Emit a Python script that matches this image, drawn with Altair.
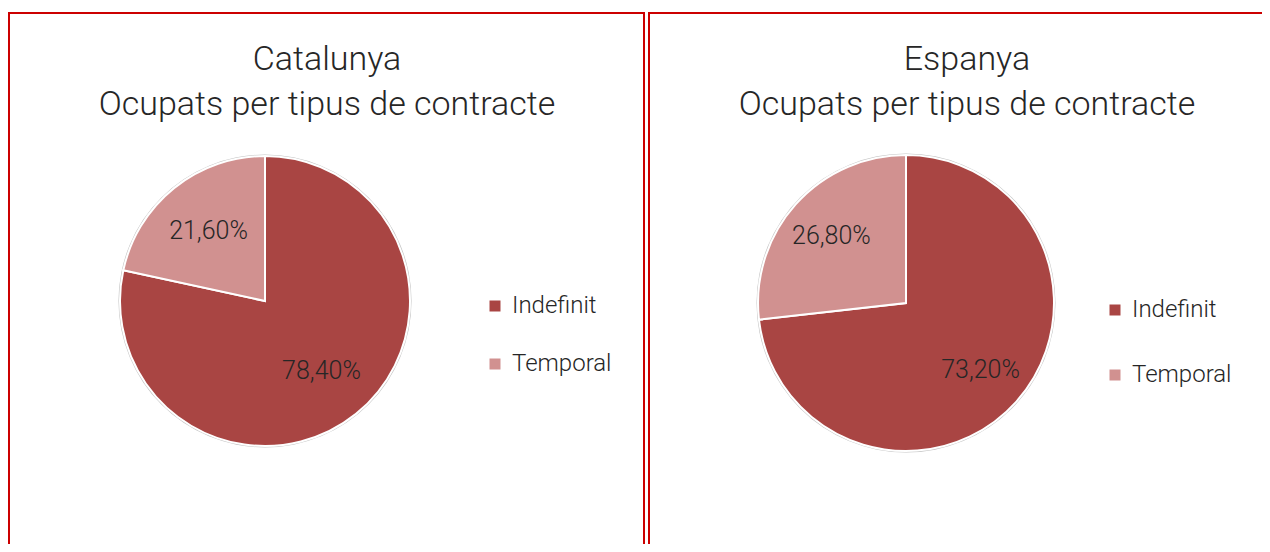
import math
import altair as alt
import pandas as pd

categories = ["Indefinit", "Temporal"]
catalunya_values = [78.4, 21.6]
espanya_values = [73.2, 26.8]
panel_names = ["Catalunya", "Espanya"]
subtitle = "Ocupats per tipus de contracte"
colors = ["#A94543", "#D19190"]

FONT = "Roboto"
TEXT_COLOR = "#262626"
FRAME_COLOR = "#CC0000"


def fmt(v):
    return f"{v:.2f}".replace(".", ",") + "%"


def panel(name, values, cx, cy, r, fx1, fx2, title_x, leg_x, leg_y, row_pad, label_r):
    df = pd.DataFrame({
        "cat": categories,
        "value": values,
        "order": list(range(len(categories))),
        "label": [fmt(v) for v in values],
    })
    one = pd.DataFrame({"title": [name + "\n" + subtitle]})

    frame = alt.Chart(one).mark_rect(
        fill="transparent", stroke=FRAME_COLOR, strokeWidth=2
    ).encode(x=alt.value(fx1), x2=alt.value(fx2), y=alt.value(5), y2=alt.value(700))

    title = alt.Chart(one).mark_text(
        font=FONT, fontSize=34, fontWeight=300, color=TEXT_COLOR,
        align="center", baseline="alphabetic", lineBreak="\n", lineHeight=45,
    ).encode(text="title:N", x=alt.value(title_x), y=alt.value(62))

    shadow = alt.Chart(one).mark_arc(
        radius=r + 1.5, theta=0, theta2=2 * math.pi, fill="#c4c4c4"
    ).encode(x=alt.value(cx), y=alt.value(cy))

    base = alt.Chart(df).encode(
        theta=alt.Theta("value:Q", stack=True, scale=alt.Scale(domain=[0, 100])),
        order=alt.Order("order:Q"),
        x=alt.value(cx),
        y=alt.value(cy),
    )
    pie = base.mark_arc(radius=r, stroke="white", strokeWidth=2).encode(
        color=alt.Color(
            "cat:N",
            scale=alt.Scale(domain=categories, range=colors),
            legend=alt.Legend(
                title=None, orient="none", legendX=leg_x, legendY=leg_y, padding=0,
                symbolType="square", symbolSize=121, symbolStrokeWidth=0,
                labelFontSize=24, labelFont=FONT, labelFontWeight=300,
                labelColor=TEXT_COLOR, rowPadding=row_pad, labelOffset=5,
            ),
        )
    )
    labels = base.mark_text(
        radius=label_r, font=FONT, fontSize=25, fontWeight=300, color=TEXT_COLOR,
        align="center", baseline="middle",
    ).encode(text="label:N")
    return [frame, title, shadow, pie, labels]


layers = panel(panel_names[0], catalunya_values, 257, 293, 145, 1, 636, 319, 475, 286, 34, 90) + \
         panel(panel_names[1], espanya_values, 898, 295, 148, 641, 1300, 959, 1095, 290, 41, 100)

chart = alt.layer(*layers).resolve_scale(color="independent").properties(
    width=1254, height=536, padding=0, autosize="none", background="white"
).configure_view(strokeWidth=0)

chart.save("out.html", embed_options={"renderer": "svg", "actions": False})
